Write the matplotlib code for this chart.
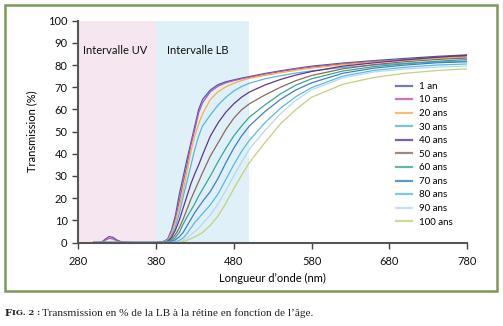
import matplotlib
matplotlib.use("Agg")
import matplotlib.pyplot as plt
from matplotlib.patches import Rectangle

# ---------------- data ----------------
wavelength = [300, 310, 315, 320, 325, 330, 335, 340, 350, 380, 390, 395, 400, 405, 410,
              415, 420, 425, 430, 435, 440, 450, 460, 470, 480, 490, 500, 520, 540,
              560, 580, 620, 660, 700, 740, 780]

t_1an = [0, 0.1, 1.5, 2.7, 2.3, 1.1, 0.4, 0.15, 0, 0, 0.5, 1.5, 5.5, 12, 21.5,
         29.5, 37.5, 45, 52.5, 60, 64.5, 68.8, 71.2, 72.5, 73.3, 74.1, 74.8, 76.2, 77.4,
         78.5, 79.5, 80.9, 82.0, 83.0, 83.9, 84.6]
t_10 = [0, 0.05, 1.0, 1.9, 1.6, 0.8, 0.3, 0.1, 0, 0, 0.4, 1.2, 4.5, 10.5, 18.5,
        27, 35, 44, 51, 58.5, 63, 68, 70.5, 72, 73, 73.8, 74.5, 75.9, 77.1,
        78.2, 79.1, 80.5, 81.6, 82.5, 83.3, 84.0]
t_20 = [0, 0, 0, 0, 0, 0, 0, 0, 0, 0, 0.3, 1.0, 4.0, 9.0, 16,
        23, 32, 41, 48, 53.5, 58, 64.5, 68, 70.2, 71.8, 73, 74, 75.3, 76.5,
        77.6, 78.6, 80.1, 81.3, 82.2, 83.0, 83.6]
t_30 = [0, 0, 0, 0, 0, 0, 0, 0, 0, 0, 0.2, 0.8, 3.0, 7.0, 13,
        20.5, 27.5, 34.7, 42, 48, 52.5, 57.5, 62, 65.5, 68.3, 70.3, 71.8, 73.8, 75.2,
        76.4, 77.4, 78.9, 80.0, 80.8, 81.4, 81.8]
t_40 = [0, 0, 0, 0, 0, 0, 0, 0, 0, 0, 0.1, 0.5, 2.2, 5.5, 10,
        15.5, 21, 26.5, 31, 35, 39.5, 48, 54, 58.8, 62.5, 65.5, 67.8, 71, 73.5,
        75.5, 77.1, 79.5, 81.0, 82.3, 83.5, 84.4]
t_50 = [0, 0, 0, 0, 0, 0, 0, 0, 0, 0, 0, 0.3, 1.5, 3.5, 6.5,
        10.5, 15, 19.5, 23.5, 27.5, 31.5, 39, 45, 51, 56, 59.8, 62.5, 66.5, 70,
        73, 75.3, 78.3, 80.2, 81.5, 82.5, 83.2]
t_60 = [0, 0, 0, 0, 0, 0, 0, 0, 0, 0, 0, 0.2, 0.8, 2.2, 4.5,
        8.2, 11.5, 14.5, 17.5, 21, 24, 30, 36.5, 42.5, 48, 52.5, 56.5, 62, 67,
        71, 73.8, 77.3, 79.3, 80.6, 81.7, 82.5]
t_70 = [0, 0, 0, 0, 0, 0, 0, 0, 0, 0, 0, 0, 0.5, 1.2, 2.5,
        4.5, 7.5, 10.5, 13.5, 16, 18.5, 23, 29, 36, 42.5, 48, 52.5, 59, 64.5,
        68.8, 72, 76.3, 78.6, 80.0, 81.0, 81.5]
t_80 = [0, 0, 0, 0, 0, 0, 0, 0, 0, 0, 0, 0, 0, 0.3, 1.0,
        2.0, 4.0, 6.5, 9.0, 11, 13, 17, 22, 28.5, 35, 41, 46, 54, 60.5,
        65.8, 69.8, 75.0, 77.6, 79.0, 80.0, 80.5]
t_90 = [0, 0, 0, 0, 0, 0, 0, 0, 0, 0, 0, 0, 0, 0, 0.3,
        1.0, 2.0, 3.5, 5.0, 6.5, 8.5, 12.5, 17.5, 23.5, 30, 36.2, 42, 50.5, 58,
        64.2, 68.8, 74.2, 76.9, 78.2, 79.1, 79.6]
t_100 = [0, 0, 0, 0, 0, 0, 0, 0, 0, 0, 0, 0, 0, 0, 0,
         0.3, 1.0, 1.7, 2.5, 3.5, 4.5, 7.8, 12, 17.8, 24.2, 30.3, 36, 45, 53.5,
         60, 65.5, 71.3, 74.4, 76.3, 77.5, 78.3]

series = [t_1an, t_10, t_20, t_30, t_40, t_50, t_60, t_70, t_80, t_90, t_100]
labels = ["1 an", "10 ans", "20 ans", "30 ans", "40 ans", "50 ans", "60 ans",
          "70 ans", "80 ans", "90 ans", "100 ans"]
colors = ["#4f5aa6", "#b855a8", "#f5b04e", "#56b6e0", "#62348c", "#8d6a55",
          "#3aa597", "#3c80c4", "#5ab8e6", "#b5d9f0", "#c2d27a"]

x_ticks = [280, 380, 480, 580, 680, 780]
y_ticks = [0, 10, 20, 30, 40, 50, 60, 70, 80, 90, 100]
uv_band = (280, 380)
lb_band = (380, 500)

# ---------------- figure ----------------
plt.rcParams['font.family'] = ['Lato', 'DejaVu Sans']
fig = plt.figure(figsize=(5.03, 3.26), dpi=100)
ax = fig.add_axes([78 / 503, 1 - 242.5 / 326, (467.3 - 78) / 503, (242.5 - 20.7) / 326])

ax.axvspan(*uv_band, color="#f6e6ef", lw=0, zorder=0)
ax.axvspan(*lb_band, color="#dff0f8", lw=0, zorder=0)

for s, lab, c in zip(series, labels, colors):
    ax.plot(wavelength, s, color=c, lw=0.9, label=lab, zorder=2)

ax.set_xlim(280, 780)
ax.set_ylim(0, 100)
ax.set_xticks(x_ticks)
ax.set_yticks(y_ticks)
ax.tick_params(axis='both', labelsize=8, color="#444444", width=1, length=4,
               direction='out', labelcolor="#111111")
ax.tick_params(axis='x', pad=6)
for side in ("top", "right"):
    ax.spines[side].set_visible(False)
for side in ("left", "bottom"):
    ax.spines[side].set_color("#555555")
    ax.spines[side].set_linewidth(1.5)
ax.set_xlabel("Longueur d\u2019onde (nm)", fontsize=8, labelpad=4)
ax.set_ylabel("Transmission (%)", fontsize=8, labelpad=8)

ax.text(0.013, 0.865, "Intervalle UV", transform=ax.transAxes, fontsize=8, color="#111111",
        va="center", ha="left")
ax.text(0.228, 0.865, "Intervalle LB", transform=ax.transAxes, fontsize=8, color="#111111",
        va="center", ha="left")

leg = ax.legend(loc="upper left", bbox_to_anchor=(0.818, 0.724), frameon=False,
                fontsize=7, handlelength=1.55, handletextpad=0.8, labelspacing=0.47,
                borderaxespad=0, borderpad=0)
for h in leg.get_lines():
    h.set_linewidth(1.6)
    h.set_alpha(0.8)

# green frame
fig.patches.append(Rectangle((5 / 503, 1 - 291 / 326), 492 / 503, 286 / 326,
                             transform=fig.transFigure, fill=False,
                             edgecolor="#7d9a55", linewidth=1.8))

# caption
cap_y = 1 - 313 / 326
t1 = fig.text(5 / 503, cap_y, "F", fontsize=7.4, fontweight="bold",
              family="DejaVu Serif", va="center", color="#222222")
fig.canvas.draw()
r = fig.canvas.get_renderer()
bb = t1.get_window_extent(r)
t2 = fig.text(bb.x1 / 503, cap_y, "IG. 2 :", fontsize=6.0, fontweight="bold",
              family="DejaVu Serif", va="center", color="#222222")
bb2 = t2.get_window_extent(r)
fig.text(bb2.x1 / 503 + 1.5 / 503, cap_y,
         "Transmission en % de la LB \u00e0 la r\u00e9tine en fonction de l\u2019\u00e2ge.",
         fontsize=8.1, family="Liberation Serif", va="center", color="#222222")

fig.savefig("out.png", dpi=100)
